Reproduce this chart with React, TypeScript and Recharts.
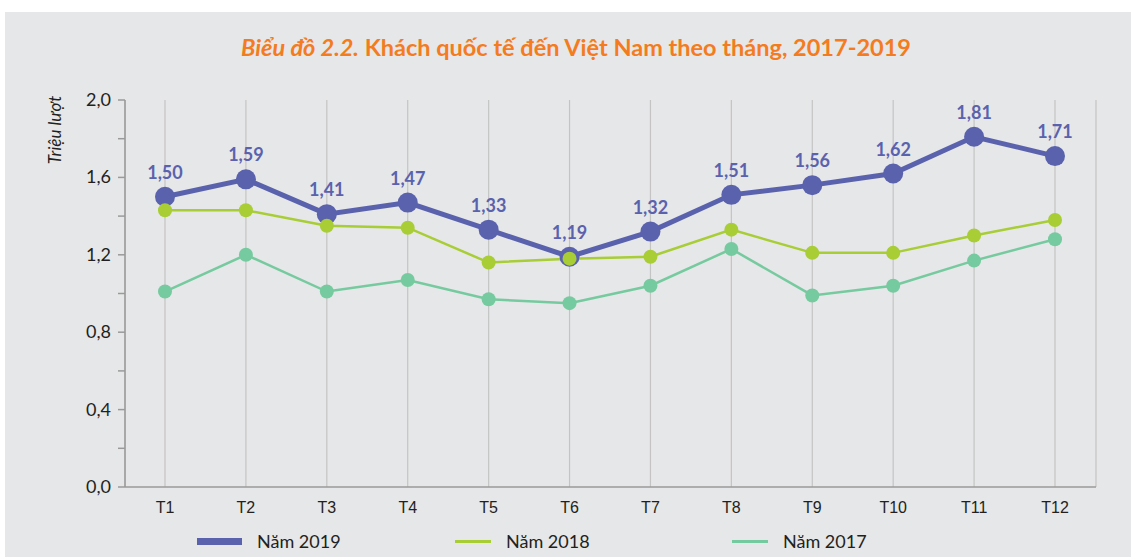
import React from "react";
import {
  LineChart,
  Line,
  XAxis,
  YAxis,
  CartesianGrid,
  LabelList,
} from "recharts";

const months = ["T1", "T2", "T3", "T4", "T5", "T6", "T7", "T8", "T9", "T10", "T11", "T12"];
const y2019 = [1.5, 1.59, 1.41, 1.47, 1.33, 1.19, 1.32, 1.51, 1.56, 1.62, 1.81, 1.71];
const y2018 = [1.43, 1.43, 1.35, 1.34, 1.16, 1.18, 1.19, 1.33, 1.21, 1.21, 1.3, 1.38];
const y2017 = [1.01, 1.2, 1.01, 1.07, 0.97, 0.95, 1.04, 1.23, 0.99, 1.04, 1.17, 1.28];
const yTicks = [0, 0.2, 0.4, 0.6, 0.8, 1.0, 1.2, 1.4, 1.6, 1.8, 2.0];

const data = months.map((m, i) => ({
  month: m,
  y2019: y2019[i],
  y2018: y2018[i],
  y2017: y2017[i],
}));

const series = [
  { key: "y2019", name: "Năm 2019", color: "#5A62AE", width: 5, r: 10, legendX: 197, legendW: 45, legendH: 7 },
  { key: "y2018", name: "Năm 2018", color: "#A8CD35", width: 2.5, r: 7, legendX: 455, legendW: 36, legendH: 3 },
  { key: "y2017", name: "Năm 2017", color: "#76CA9F", width: 2.5, r: 7, legendX: 732, legendW: 36, legendH: 3 },
];

const fmt = (v: number) => v.toFixed(2).replace(".", ",");

const YTick: React.FC<any> = ({ x, y, payload, index }) => {
  if (index % 2 !== 0) return null;
  return (
    <text x={x - 5} y={y} dy={6} textAnchor="end" fill="#231F20" fontSize={18} fontFamily="Lato">
      {payload.value.toFixed(1).replace(".", ",")}
    </text>
  );
};

export default function App() {
  return (
    <div style={{ position: "absolute", left: 0, top: 0, width: 1131, height: 557, background: "#fff" }}>
      <div style={{ position: "absolute", left: 5, top: 12, right: 0, bottom: 0, background: "#E6E7E8" }} />
      <div
        style={{
          position: "absolute",
          top: 33,
          left: 0,
          width: 1152,
          textAlign: "center",
          color: "#F47B20",
          fontFamily: "Lato",
          fontWeight: 700,
          fontSize: 23.5,
        }}
      >
        <i>Biểu đồ 2.2.</i> Khách quốc tế đến Việt Nam theo tháng, 2017-2019
      </div>
      <div
        style={{
          position: "absolute",
          left: 54,
          top: 130,
          transform: "translate(-50%, -50%) rotate(-90deg)",
          fontFamily: "Lato",
          fontStyle: "italic",
          fontSize: 17,
          color: "#231F20",
          whiteSpace: "nowrap",
        }}
      >
        Triệu lượt
      </div>
      <div style={{ position: "absolute", left: 0, top: 0 }}>
        <LineChart width={1131} height={557} data={data} margin={{ top: 100, right: 35, left: 65, bottom: 40 }}>
          <CartesianGrid vertical horizontal={false} stroke="#C4C4C4" strokeWidth={1.2} />
          <XAxis
            dataKey="month"
            height={30}
            padding={{ left: 40, right: 41 }}
            stroke="#9A9A9A"
            strokeWidth={1.5}
            tickLine={false}
            tick={{ fill: "#231F20", fontSize: 16, fontFamily: "Liberation Sans" }}
            tickMargin={9}
          />
          <YAxis
            width={60}
            domain={[0, 2]}
            ticks={yTicks}
            interval={0}
            stroke="#9A9A9A"
            strokeWidth={1.5}
            tickSize={7}
            tick={<YTick />}
          />
          {series.map((s) => (
            <Line
              key={s.key}
              dataKey={s.key}
              name={s.name}
              stroke={s.color}
              strokeWidth={s.width}
              dot={{ r: s.r, fill: s.color, stroke: s.color, strokeWidth: 0 }}
              activeDot={false}
              isAnimationActive={false}
            >
              {s.key === "y2019" && (
                <LabelList
                  dataKey={s.key}
                  position="top"
                  offset={18}
                  formatter={(v: any) => fmt(Number(v))}
                  style={{ fill: "#5A62AE", fontSize: 18, fontWeight: 700, fontFamily: "Lato" }}
                />
              )}
            </Line>
          ))}
        </LineChart>
      </div>
      {series.map((s) => (
        <div key={s.key} style={{ position: "absolute", left: s.legendX, top: 530, height: 22, display: "flex", alignItems: "center" }}>
          <div style={{ width: s.legendW, height: s.legendH, background: s.color }} />
          <span style={{ marginLeft: 15, fontFamily: "Lato", fontSize: 18, color: "#231F20" }}>{s.name}</span>
        </div>
      ))}
    </div>
  );
}
